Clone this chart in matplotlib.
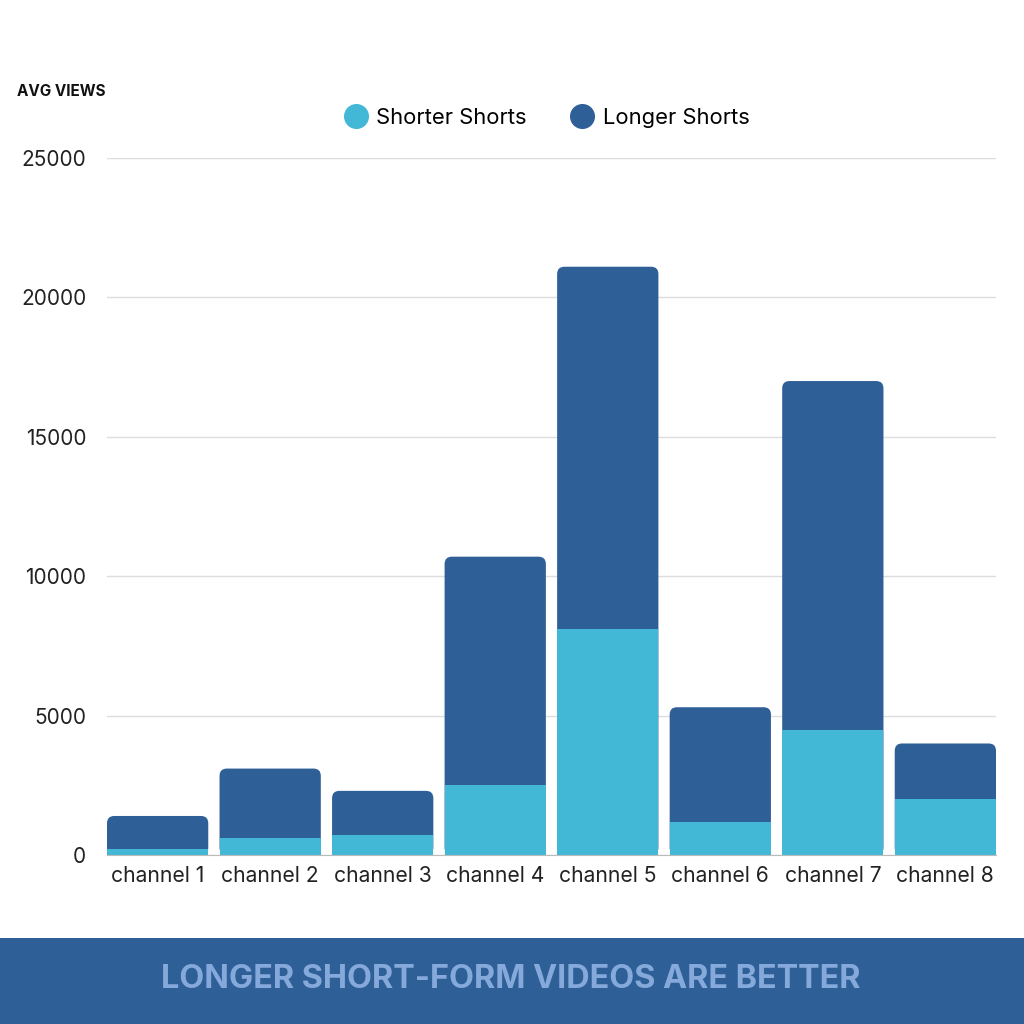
import matplotlib
matplotlib.use("Agg")
import matplotlib.pyplot as plt
from matplotlib.patches import Rectangle, FancyBboxPatch
from matplotlib.lines import Line2D

plt.rcParams['font.family'] = ['Inter', 'DejaVu Sans']

categories = ["channel 1", "channel 2", "channel 3", "channel 4",
              "channel 5", "channel 6", "channel 7", "channel 8"]
shorter = [200, 600, 700, 2500, 8100, 1200, 4500, 2000]
longer = [1200, 2500, 1600, 8200, 13000, 4100, 12500, 2000]
yticks = [0, 5000, 10000, 15000, 20000, 25000]

c_short = "#42B8D6"
c_long = "#2E5F97"

fig = plt.figure(figsize=(10.24, 10.24), dpi=100)
ax_w_px, ax_h_px = 889, 697
ax = fig.add_axes([107/1024, 1 - 855/1024, ax_w_px/1024, ax_h_px/1024])

xlim = (-0.45, len(categories) - 0.55)
ylim = (0, 25000)
ax.set_xlim(*xlim)
ax.set_ylim(*ylim)

width = 0.9
x = list(range(len(categories)))
# stacked bars (longer stacked on shorter); drawn as rounded patches
bars_long = ax.bar(x, longer, bottom=shorter, width=width, color=c_long, zorder=3)
aspect = ((ylim[1] - ylim[0]) / ax_h_px) / ((xlim[1] - xlim[0]) / ax_w_px)
for r in bars_long:
    x0, y0 = r.get_x(), r.get_y()
    w, h = r.get_width(), r.get_height()
    r.set_visible(False)
    p = FancyBboxPatch((x0, 0), w, y0 + h,
                       boxstyle="round,pad=0,rounding_size=0.065",
                       mutation_aspect=aspect, facecolor=c_long,
                       edgecolor='none', zorder=3)
    ax.add_patch(p)
ax.bar(x, shorter, width=width, color=c_short, zorder=4)

ax.set_yticks(yticks)
ax.set_yticklabels([str(v) for v in yticks], fontsize=15, color="#222222")
ax.set_xticks(x)
ax.set_xticklabels(categories, fontsize=15.2, color="#222222")
ax.tick_params(axis='both', length=0)
ax.tick_params(axis='y', pad=15)
ax.tick_params(axis='x', pad=8)
ax.grid(axis='y', color="#DDDDDD", linewidth=1, zorder=0)
for s in ['top', 'right', 'left']:
    ax.spines[s].set_visible(False)
ax.spines['bottom'].set_color("#BBBBBB")
ax.spines['bottom'].set_zorder(5)

fig.text(17/1024, 1 - 92/1024, "AVG VIEWS", fontsize=11, fontweight='bold',
         color="#111111", va='center', ha='left')

handles = [Line2D([], [], marker='o', linestyle='none', markersize=17, color=c_short),
           Line2D([], [], marker='o', linestyle='none', markersize=17, color=c_long)]
fig.legend(handles, ["Shorter Shorts", "Longer Shorts"], loc='center',
           bbox_to_anchor=(547/1024, 1 - 118/1024), ncol=2, frameon=False,
           fontsize=15.8, handletextpad=0.45, columnspacing=2.0, handlelength=1.0)

fig.patches.append(Rectangle((0, 0), 1, 86/1024, transform=fig.transFigure,
                             facecolor=c_long, edgecolor='none', zorder=0))
fig.text(511/1024, 1 - 979/1024, "LONGER SHORT-FORM VIDEOS ARE BETTER", fontsize=23.3,
         fontweight='bold', color="#86A9DB", ha='center', va='center')

fig.savefig("out.png", dpi=100, facecolor="white")
